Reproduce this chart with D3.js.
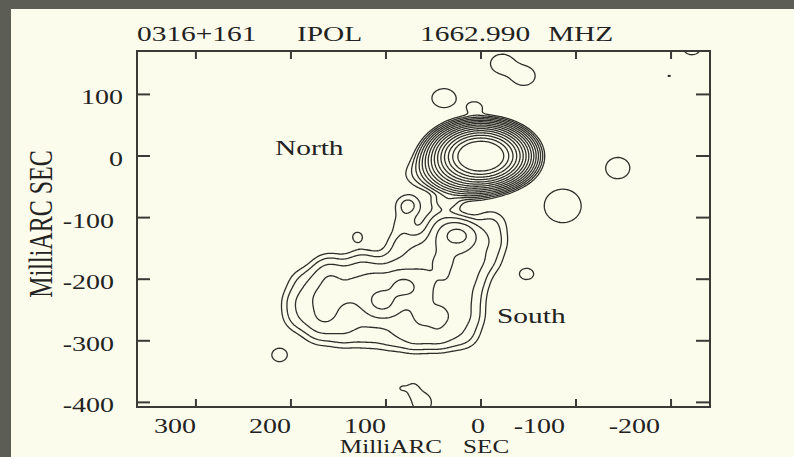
<!DOCTYPE html>
<html>
<head>
<meta charset="utf-8">
<script src="https://cdn.jsdelivr.net/npm/d3@7"></script>
<style>
  html, body { margin: 0; padding: 0; background: #5c5e55; }
  svg { display: block; }
</style>
</head>
<body>
<div id="chart"></div>
<script>
// ---- data (milliarcsec) ----
const titleParts = ['0316+161', 'IPOL', '1662.990', 'MHZ']
const xTicks = [300, 200, 100, 0, -100, -200]
const yTicks = [100, 0, -100, -200, -300, -400]
const xDomain = [362, -241]
const yDomain = [170.5, -407.5]
const levels = [1, 2, 4, 8, 16, 32, 64, 128, 256, 512, 1024, 2048, 4096, 8192, 16384]

// brightness components: [x, y, peak, sigmaX, sigmaY]
const coreComps = [
  [0, 0, 67700, 14.2, 14.2],
  [15, -15, 1500, 15, 15],
  [6, 78, 1.5, 8, 10],
  [60, -30, 2, 15, 15]
]
const bridgeComps = [
  [77, -80, 2.5, 9, 12],
  [36, -72, 3, 10, 10],
  [82, -110, 1.4, 9, 14],
  [86, -140, 1.5, 10, 14]
]
const lobeComps = [
  // upper (western) knot
  [24, -128, 16, 12, 14],
  [-10, -110, 2, 12, 16],
  [40, -110, 3, 12, 16],
  [-10, -140, 2.5, 12, 16],
  [15, -140, 3, 12, 16],
  [40, -140, 5, 12, 16],
  [65, -145, 2, 12, 16],
  [-5, -170, 2, 12, 16],
  [15, -170, 4, 12, 16],
  [40, -170, 6, 12, 16],
  [65, -170, 4, 12, 16],
  [90, -172, 2.5, 12, 16],
  // lower (eastern) lobe
  [125, -175, 2.5, 12, 16],
  [160, -180, 2, 12, 16],
  [10, -200, 3, 12, 16],
  [35, -200, 5, 12, 16],
  [60, -200, 5, 12, 16],
  [85, -205, 7, 12, 16],
  [110, -200, 6.5, 12, 16],
  [135, -200, 5, 12, 16],
  [160, -200, 5.5, 12, 16],
  [185, -205, 2, 12, 16],
  [15, -230, 3, 12, 16],
  [40, -230, 4, 12, 16],
  [65, -230, 5.5, 12, 16],
  [102, -238, 14, 12, 16],
  [80, -214, 10, 12, 16],
  [115, -230, 6.5, 12, 16],
  [140, -230, 5, 12, 16],
  [165, -230, 7.5, 12, 16],
  [190, -235, 3, 12, 16],
  [15, -260, 3, 12, 16],
  [40, -260, 6, 12, 16],
  [65, -260, 6, 12, 16],
  [90, -260, 2.5, 12, 16],
  [115, -260, 2.5, 12, 16],
  [140, -260, 3.5, 12, 16],
  [165, -260, 6.5, 12, 16],
  [190, -262, 2.5, 12, 16],
  [20, -290, 2.5, 12, 16],
  [45, -290, 5, 12, 16],
  [70, -292, 4.5, 12, 16],
  [95, -292, 2.5, 12, 16],
  [120, -290, 2, 12, 16],
  [145, -288, 2.5, 12, 16],
  [170, -285, 2, 12, 16]
]
const islandComps = [
  [39, 94, 1.5, 14, 17],
  [-144, -19.5, 1.5, 14, 19],
  [-86, -81, 1.6, 20, 28],
  [-22, 150, 1.8, 11, 14],
  [-45, 130, 1.8, 11, 14],
  [-222, 178, 1.6, 10, 14],
  [-198, 130, 1.03, 5, 5],
  [130, -131, 1.35, 6, 9],
  [212, -323, 1.5, 9, 12],
  [-48, -191.5, 1.4, 9, 11],
  [72, -378, 1.3, 6, 10],
  [62, -400, 1.8, 9, 14],
  [83, -377, 1.05, 4, 4]
]

// ---- layout ----
const width = 794
const height = 457
const frame = { left: 137, right: 710, top: 51, bottom: 407 }
const stretch = 1.4

const svg = d3.select('#chart')
  .append('svg')
  .attr('width', width)
  .attr('height', height)

// slide border + paper
svg.append('rect').attr('width', width).attr('height', height).attr('fill', '#5c5e55')
svg.append('rect')
  .attr('x', 11).attr('y', 9)
  .attr('width', width - 11).attr('height', height - 9)
  .attr('fill', '#fcfcec')

const x = d3.scaleLinear().domain(xDomain).range([frame.left, frame.right])
const y = d3.scaleLinear().domain(yDomain).range([frame.top, frame.bottom])

// brightness grid
const step = 1.5
const gx0 = -262, gx1 = 382, gy0 = -428, gy1 = 192
const nx = Math.round((gx1 - gx0) / step)
const ny = Math.round((gy1 - gy0) / step)
const comps = coreComps.concat(bridgeComps, lobeComps, islandComps)
const values = new Float64Array(nx * ny)
for (let j = 0; j < ny; j++) {
  const yy = gy0 + j * step
  for (let i = 0; i < nx; i++) {
    const xx = gx0 + i * step
    let v = 0
    for (const c of comps) {
      const dx = (xx - c[0]) / c[3]
      const dy = (yy - c[1]) / c[4]
      const q = dx * dx + dy * dy
      if (q < 60) v += c[2] * Math.exp(-q / 2)
    }
    values[j * nx + i] = v
  }
}

const contours = d3.contours().size([nx, ny]).thresholds(levels)(values)

const proj = d3.geoTransform({
  point: function (gx, gy) {
    this.stream.point(x(gx0 + (gx - 0.5) * step), y(gy0 + (gy - 0.5) * step))
  }
})
const path = d3.geoPath(proj)

svg.append('clipPath').attr('id', 'clip')
  .append('rect')
  .attr('x', frame.left).attr('y', frame.top)
  .attr('width', frame.right - frame.left)
  .attr('height', frame.bottom - frame.top)

svg.append('g')
  .attr('clip-path', 'url(#clip)')
  .selectAll('path')
  .data(contours)
  .join('path')
  .attr('d', path)
  .attr('fill', 'none')
  .attr('stroke', '#2e2e2a')
  .attr('stroke-width', 1.3)
  .attr('stroke-linejoin', 'round')

// frame
svg.append('rect')
  .attr('x', frame.left).attr('y', frame.top)
  .attr('width', frame.right - frame.left)
  .attr('height', frame.bottom - frame.top)
  .attr('fill', 'none')
  .attr('stroke', '#3a3a36')
  .attr('stroke-width', 2)

// ticks (inward)
const tickG = svg.append('g').attr('stroke', '#3a3a36').attr('stroke-width', 2)
xTicks.forEach(t => {
  tickG.append('line').attr('x1', x(t)).attr('x2', x(t)).attr('y1', frame.bottom).attr('y2', frame.bottom - 8)
  tickG.append('line').attr('x1', x(t)).attr('x2', x(t)).attr('y1', frame.top).attr('y2', frame.top + 8)
})
yTicks.forEach(t => {
  tickG.append('line').attr('x1', frame.left).attr('x2', frame.left + 13).attr('y1', y(t)).attr('y2', y(t))
  tickG.append('line').attr('x1', frame.right).attr('x2', frame.right - 14).attr('y1', y(t)).attr('y2', y(t))
})

// stretched serif text, like the slide
function label(px, py, txt, anchor, size, rot) {
  return svg.append('text')
    .attr('transform', `translate(${px},${py}) scale(${stretch},1)` + (rot ? ` rotate(${rot})` : ''))
    .attr('text-anchor', anchor || 'start')
    .attr('font-family', '"Liberation Serif", "DejaVu Serif", serif')
    .attr('font-size', size || 20)
    .attr('fill', '#222')
    .text(txt)
}

const titleX = [137, 297, 420, 548]
titleParts.forEach((t, i) => label(titleX[i], 41, t, 'start', 21))

xTicks.forEach(t => {
  const shift = t < 0 ? -11 : (t === 0 ? 4 : 0)
  label(x(t) + shift, 432.5, String(t), 'end', 20)
})
yTicks.forEach(t => {
  label(t < 0 ? 114 : 123, y(t) + 10, String(t), 'end', 20)
})

label(275, 155, 'North', 'start', 21)
label(497, 323, 'South', 'start', 21)
label(442, 453, 'MilliARC', 'end', 18)
label(463, 453, 'SEC', 'start', 18)
label(52, 224, 'MilliARC SEC', 'middle', 24, -90)
</script>
</body>
</html>
